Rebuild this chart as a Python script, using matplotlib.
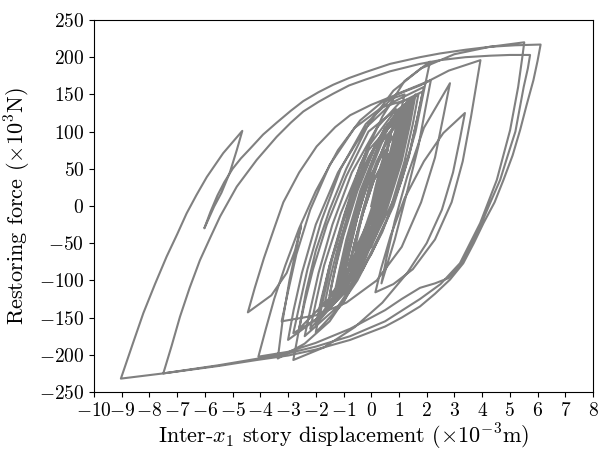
import numpy as np
import matplotlib
matplotlib.use('Agg')
from matplotlib import pyplot as plt

plt.rcParams['font.family'] = 'serif'
plt.rcParams['font.serif'] = ['cmr10']
plt.rcParams['mathtext.fontset'] = 'cm'
plt.rcParams['axes.formatter.use_mathtext'] = True

# displacement (x1e-3 m) / restoring force (x1e3 N) in path order
# small cycles around the origin
core_x = [0.0, 0.15, 0.35, 0.6, 0.9,
          0.75, 0.5, 0.1, -0.35, -0.8,
          -0.6, -0.3, 0.1, 0.55, 1.1,
          0.9, 0.6, 0.15, -0.4, -1.0,
          -0.8, -0.5, 0.0, 0.6, 1.3,
          1.1, 0.8, 0.3, -0.4, -1.3,
          -1.1, -0.8, -0.35, 0.25, 1.0,
          0.8, 0.5, 0.0, -0.5, -1.1,
          -0.9, -0.6, -0.1, 0.6, 1.5,
          1.3, 1.0, 0.4, -0.5, -1.6,
          -1.4, -1.1, -0.6, 0.2, 1.2,
          1.0, 0.7, 0.2, -0.5, -1.4,
          -1.2, -0.9, -0.4, 0.4, 1.4,
          1.2, 0.9, 0.3, -0.6, -1.9,
          -1.7, -1.4, -0.9, -0.1, 1.1,
          0.9, 0.6, 0.0, -0.9, -2.2,
          -2.0, -1.7, -1.1, -0.1, 0.8, 1.7,
          1.5, 1.2, 0.6, -0.3, -1.2, -2.4]
core_y = [0, 25, 55, 82, 100,
          70, 30, -20, -58, -85,
          -50, -5, 45, 90, 120,
          85, 40, -20, -72, -105,
          -65, -15, 50, 105, 135,
          95, 45, -20, -80, -125,
          -90, -40, 20, 80, 115,
          80, 30, -30, -80, -110,
          -70, -20, 45, 110, 145,
          105, 55, -15, -90, -140,
          -100, -50, 15, 85, 130,
          95, 45, -20, -85, -130,
          -95, -45, 20, 95, 140,
          100, 50, -25, -100, -155,
          -120, -70, -5, 75, 125,
          90, 40, -35, -110, -165,
          -130, -80, -10, 80, 125, 150,
          110, 60, -15, -85, -135, -175]

# medium cycles
mid_x = [-2.2, -1.9, -1.4, -0.7, 0.2, 1.0, 1.86,
         1.65, 1.35, 0.8, 0.0, -0.9, -1.8, -2.81,
         -2.6, -2.3, -1.8, -1.1, -0.2, 0.9, 2.15,
         1.95, 1.7, 1.3, 0.85, 0.37,
         0.55, 0.85, 1.3, 1.9, 2.84,
         2.6, 2.3, 1.8, 1.1, 0.2, -0.9, -2.0, -3.23,
         -3.0, -2.7, -2.2, -1.5, -0.6, 0.4, 1.5,
         1.3, 1.0, 0.5, -0.2, -1.0, -2.0,
         -1.8, -1.5, -1.0, -0.4, 0.4, 1.2, 2.12,
         1.9, 1.6, 1.1, 0.4, -0.5, -1.5, -2.4, -3.37,
         -3.2, -2.95, -2.75, -2.53,
         -2.75, -3.05, -3.6, -4.45,
         -4.2, -3.87, -3.5, -3.17, -2.6, -1.97, -1.3, -0.76, 0.0, 0.8, 1.76,
         2.8, 3.94,
         3.8, 3.6, 3.3, 2.9, 2.3, 1.5, 0.8, 0.15,
         0.35, 0.7, 1.2, 1.9, 2.6, 3.38,
         3.2, 2.95, 2.55, 2.0, 1.3, 0.4, -0.6, -1.7, -2.81]
mid_y = [-140, -90, -25, 45, 105, 138, 154,
         115, 65, 0, -65, -115, -148, -171,
         -135, -85, -20, 50, 110, 150, 169,
         130, 80, 20, -45, -104,
         -70, -20, 40, 105, 165,
         120, 65, 5, -55, -100, -130, -147, -155,
         -115, -65, -5, 55, 105, 133, 145,
         105, 55, -5, -70, -130, -170,
         -130, -80, -15, 55, 120, 168, 194,
         155, 100, 35, -35, -100, -155, -185, -205,
         -155, -100, -65, -27,
         -60, -90, -120, -143,
         -110, -70, -30, 5, 45, 80, 106, 122, 136, 148, 162,
         182, 196,
         165, 120, 60, 5, -45, -85, -105, -116,
         -85, -40, 10, 60, 98, 125,
         90, 45, -5, -50, -90, -130, -163, -190, -207]

# large excursions
big_x = [-2.6, -2.35, -2.0, -1.5, -0.9, -0.1, 0.8, 1.8, 3.0, 4.29, 5.52,
         5.45, 5.3, 5.01, 4.53, 3.93, 3.2, 2.5, 1.76, 0.5, -0.76, -2.0,
         -3.0, -4.07, -5.5, -7.5, -9.03,
         -8.6, -8.22, -7.8, -7.38, -7.0, -6.66, -6.3, -5.93, -5.34, -4.95,
         -4.65,
         -4.85, -5.1, -5.4, -5.67, -6.02,
         -5.8, -5.55, -5.3, -5.0, -4.7, -4.37, -3.9, -3.41, -2.9, -2.45,
         -1.9, -1.37, -0.8, -0.2, 0.68, 1.76, 2.48, 3.4, 4.29, 5.2, 6.11,
         6.0, 5.85, 5.6, 5.37, 5.1, 4.77, 4.45, 4.05, 3.7, 3.32, 2.84, 2.3,
         1.76, 1.1, 0.5, -0.76, -2.0, -3.0, -4.13, -5.5, -7.5,
         -7.2, -6.9, -6.55, -6.18, -5.8, -5.45, -4.85, -4.13, -3.41, -2.9,
         -2.45, -1.9, -1.37, -0.8, -0.2, 0.68, 1.76, 2.48, 3.4, 4.29, 5.0,
         5.73,
         5.65, 5.5, 5.2, 4.9, 4.65, 4.3, 3.98, 3.6, 3.25, 2.78, 2.3, 1.76,
         1.1, 0.5, -0.76, -2.0, -3.0, -4.07]
big_y = [-165, -115, -60, -5, 50, 110, 155, 185, 204, 214, 220,
         200, 160, 102, 35, -23, -77, -105, -125, -155, -175, -189,
         -198, -205, -214, -225, -232,
         -185, -144, -105, -68, -38, -10, 15, 39, 71, 88,
         101,
         75, 45, 18, -1, -30,
         -8, 14, 32, 50, 64, 77, 96, 112, 128, 141,
         153, 163, 172, 180, 191, 200, 205, 210, 214, 216, 217,
         195, 169, 135, 102, 68, 35, 5, -23, -50, -77, -99, -118,
         -135, -150, -162, -180, -193, -201, -207, -215, -225,
         -188, -149, -110, -73, -42, -14, 26, 62, 93, 112,
         127, 140, 151, 162, 170, 181, 191, 196, 200, 202, 203,
         203,
         185, 160, 100, 65, 35, 5, -23, -52, -77, -97, -104, -110,
         -125, -140, -165, -184, -196, -202.5]

# later cycles that fill the middle and die out
end_x = [-3.8, -3.5, -3.1, -2.6, -2.0, -1.2, -0.4, 0.4, 1.2,
         1.0, 0.7, 0.2, -0.5, -1.4, -2.6,
         -2.4, -2.1, -1.6, -0.9, -0.1, 0.9,
         0.7, 0.45, 0.0, -0.5, -1.2,
         -1.0, -0.7, -0.3, 0.2, 0.7,
         0.5, 0.2, -0.2, -0.8,
         -0.6, -0.3, 0.1, 0.6,
         0.4, 0.1, -0.4, -0.9, -1.5,
         -1.3, -1.0, -0.5, 0.2, 0.8, 1.3,
         1.1, 0.8, 0.3, -0.4, -1.0, -1.7,
         -1.5, -1.2, -0.7, -0.1, 0.5, 1.0,
         0.8, 0.5, 0.1, -0.6,
         -0.4, -0.1, 0.4, 1.0, 1.6,
         1.4, 1.1, 0.6, 0.0, -1.0,
         -0.8, -0.5, -0.1, 0.5,
         0.3, 0.0, -0.5, -1.2, -2.0,
         -1.8, -1.5, -1.0, -0.3, 0.5, 1.2,
         1.0, 0.7, 0.1, -0.8, -1.9, -3.0,
         -2.8, -2.5, -2.0, -1.2, -0.2, 0.8, 1.9,
         1.7, 1.4, 0.9, 0.1, -0.8,
         -0.6, -0.3, 0.1, 0.6,
         0.45, 0.3]
end_y = [-165, -125, -80, -30, 20, 75, 115, 140, 150,
         115, 65, 0, -65, -120, -165,
         -130, -85, -25, 40, 100, 130,
         95, 50, -10, -65, -110,
         -80, -40, 10, 60, 95,
         60, 15, -35, -80,
         -50, -10, 35, 70,
         40, -10, -60, -95, -120,
         -85, -40, 20, 85, 120, 140,
         100, 50, -15, -75, -110, -135,
         -100, -55, 5, 65, 105, 125,
         90, 45, -5, -60,
         -25, 20, 75, 120, 150,
         110, 60, 0, -55, -95,
         -60, -15, 35, 75,
         40, -5, -60, -115, -160,
         -125, -80, -20, 50, 105, 135,
         100, 50, -25, -95, -150, -180,
         -140, -90, -25, 45, 105, 140, 160,
         125, 75, 15, -45, -80,
         -50, -10, 35, 70,
         45, 30]

x = np.concatenate([core_x, mid_x, big_x, end_x])
y = np.concatenate([core_y, mid_y, big_y, end_y])

fig = plt.figure(figsize=(6.01, 4.5), dpi=100)
ax = fig.add_axes([0.1564, 0.1289, 0.8303, 0.8267])
ax.plot(x, y, color='grey', lw=1.5)
ax.set_xlim(-10, 8)
ax.set_ylim(-250, 250)
ax.set_xticks(np.arange(-10, 9, 1))
ax.set_yticks(np.arange(-250, 251, 50))
ax.tick_params(labelsize=14)
ax.set_xlabel(r'Inter-$x_1$ story displacement ($\times10^{-3}$m)', fontsize=16, labelpad=2)
ax.set_ylabel(r'Restoring force ($\times10^{3}$N)', fontsize=16)
fig.savefig('out.png', dpi=100)
